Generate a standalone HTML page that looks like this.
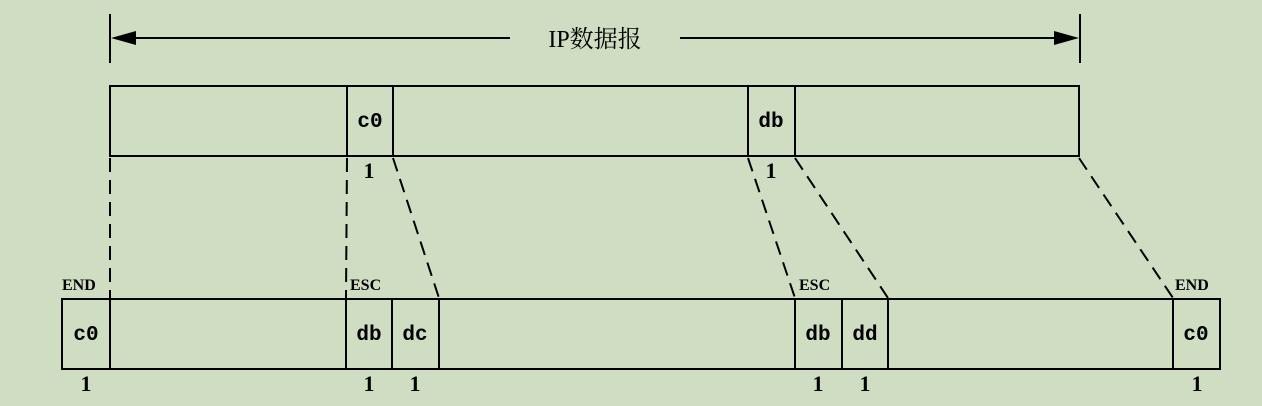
<!DOCTYPE html>
<html><head><meta charset="utf-8"><style>
html,body{margin:0;padding:0;background:#cfdec3;}
svg{display:block}
.m{font-family:"Liberation Mono",monospace;font-size:21px;font-weight:600;}
.s{font-family:"Liberation Serif","Noto Serif CJK SC",serif;}
</style></head><body>
<svg width="1262" height="406" viewBox="0 0 1262 406" xmlns="http://www.w3.org/2000/svg">
<rect width="1262" height="406" fill="#cfdec3"/>
<g stroke="#000" stroke-width="2">
<line x1="110" y1="14" x2="110" y2="63"/>
<line x1="1080" y1="14" x2="1080" y2="63"/>
<line x1="130" y1="38" x2="510" y2="38"/>
<line x1="680" y1="38" x2="1060" y2="38"/>
<polygon points="111,38 136,31 136,45" fill="#000" stroke="none"/>
<polygon points="1079,38 1054,31 1054,45" fill="#000" stroke="none"/>
</g>
<text class="s" x="595" y="47" font-size="24" text-anchor="middle">IP数据报</text>

<g stroke="#000" stroke-width="2" fill="none">
<rect x="110" y="86" width="969" height="70"/>
<line x1="347" y1="86" x2="347" y2="156"/>
<line x1="393" y1="86" x2="393" y2="156"/>
<line x1="748" y1="86" x2="748" y2="156"/>
<line x1="795" y1="86" x2="795" y2="156"/>
</g>
<text class="m" x="370" y="127" text-anchor="middle">c0</text>
<text class="m" x="771" y="127" text-anchor="middle">db</text>
<text class="s" x="369" y="178" font-size="22" font-weight="bold" text-anchor="middle">1</text>
<text class="s" x="771" y="178" font-size="22" font-weight="bold" text-anchor="middle">1</text>

<g stroke="#000" stroke-width="2" stroke-dasharray="14,8">
<line x1="110" y1="158" x2="110" y2="298"/>
<line x1="347" y1="158" x2="346" y2="298"/>
<line x1="393" y1="158" x2="439" y2="298"/>
<line x1="748" y1="158" x2="795" y2="298"/>
<line x1="795" y1="158" x2="888" y2="298"/>
<line x1="1079" y1="158" x2="1173" y2="298"/>
</g>

<g stroke="#000" stroke-width="2" fill="none">
<rect x="62" y="299" width="1158" height="70"/>
<line x1="110" y1="299" x2="110" y2="369"/>
<line x1="346" y1="299" x2="346" y2="369"/>
<line x1="392" y1="299" x2="392" y2="369"/>
<line x1="439" y1="299" x2="439" y2="369"/>
<line x1="795" y1="299" x2="795" y2="369"/>
<line x1="842" y1="299" x2="842" y2="369"/>
<line x1="888" y1="299" x2="888" y2="369"/>
<line x1="1173" y1="299" x2="1173" y2="369"/>
</g>
<g class="m" text-anchor="middle">
<text x="86" y="340">c0</text>
<text x="369" y="340">db</text>
<text x="415" y="340">dc</text>
<text x="818" y="340">db</text>
<text x="865" y="340">dd</text>
<text x="1196" y="340">c0</text>
</g>
<g class="s" font-size="16" font-weight="bold">
<text x="62" y="290">END</text>
<text x="350" y="290">ESC</text>
<text x="799" y="290">ESC</text>
<text x="1175" y="290">END</text>
</g>
<g class="s" font-size="22" font-weight="bold" text-anchor="middle">
<text x="86" y="391">1</text>
<text x="369" y="391">1</text>
<text x="415" y="391">1</text>
<text x="818" y="391">1</text>
<text x="865" y="391">1</text>
<text x="1197" y="391">1</text>
</g>
</svg>
</body></html>
